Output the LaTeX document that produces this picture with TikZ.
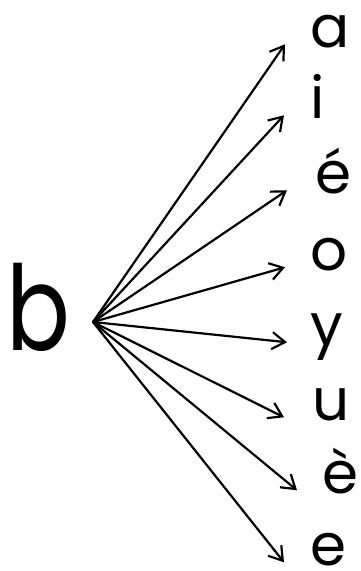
\documentclass[tikz,border=0pt]{standalone}
\usepackage{fontspec}
\setmainfont{Poppins}
\usetikzlibrary{arrows.meta}
\tikzset{
  letter/.style={font=\fontsize{58}{60}\selectfont, inner sep=0pt, anchor=base west},
  bigletter/.style={font=\fontsize{118}{120}\selectfont, inner sep=0pt, anchor=base west,
    transform shape, xscale=0.8},
  fan/.style={-{Straight Barb[length=13pt,width=17pt]}, line width=2.2pt}
}
\begin{document}
\begin{tikzpicture}[x=1pt,y=-1pt]
  \useasboundingbox (0,0) rectangle (361,571);
  % source letter and fan point
  \node[bigletter] (b) at (6,350) {b};
  \coordinate (hub) at (93,322);

  % target letters
  \node[letter] (a) at (310,47) {a};
  \node[letter] (i) at (310,118) {i};
  \node[letter] (eacute) at (315,193) {é};
  \node[letter] (o) at (310,270) {o};
  \node[letter] (y) at (310,345) {y};
  \node[letter] (u) at (312,420) {u};
  \node[letter] (egrave) at (322,493) {è};
  \node[letter] (e) at (310,565) {e};

  % arrows
  \foreach \n/\d in {a/25,i/26,eacute/28,o/25,y/23,u/28,egrave/25,e/26}
    \draw[fan] (hub) -- ([xshift=-\d pt]\n.mid west);
\end{tikzpicture}
\end{document}
